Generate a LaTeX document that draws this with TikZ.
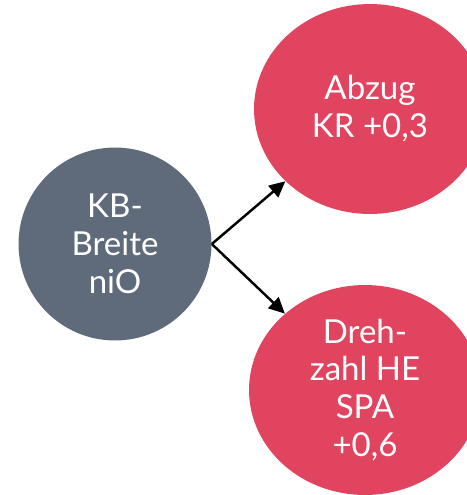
\documentclass[tikz,border=0pt]{standalone}
\usepackage{fontspec}
\setmainfont{Lato}
\usepackage{tikz}
\usetikzlibrary{arrows.meta,shapes.geometric}

\definecolor{schiefer}{HTML}{5F6B7B}
\definecolor{himbeer}{HTML}{E1445F}

\begin{document}
\begin{tikzpicture}[x=0.02cm,y=-0.02cm]
		\tikzstyle{every node}=[text=white, font=\fontsize{18.8}{21.6}\selectfont, align=center, inner sep=0pt]
		\tikzstyle{ursache}=[circle, fill=schiefer, minimum size=3.86cm]
		\tikzstyle{folge}=[ellipse, fill=himbeer, minimum width=4.64cm, minimum height=4.2cm]
		\tikzstyle{pfeil}=[-{Triangle[length=0.32cm,width=0.3cm]}, line width=1.4pt, black]
		\useasboundingbox (0,0) rectangle (467,495);
		\node[ursache] (kb) at (115,244) {KB-\\Breite\\niO};
		\node[folge] (abzug) at (370,109) {Abzug\\KR +0,3};
		\node[folge] (dreh) at (365,390) {Dreh-\\zahl HE\\SPA\\+0,6};
		\draw[pfeil] (kb.east) -- (abzug);
		\draw[pfeil] (kb.east) -- (dreh);
	\end{tikzpicture}
\end{document}
